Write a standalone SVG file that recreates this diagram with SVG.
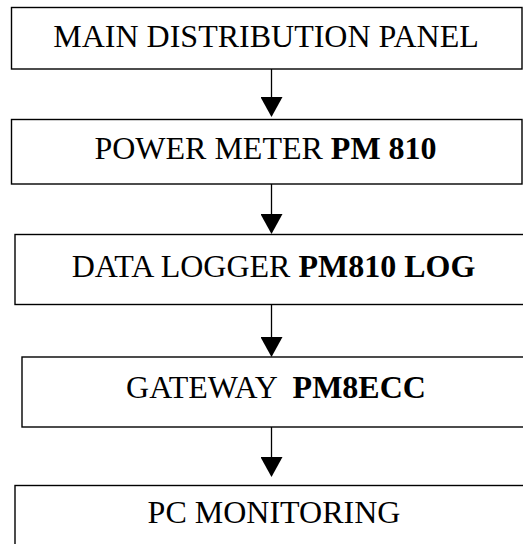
<svg xmlns="http://www.w3.org/2000/svg" width="523" height="544" viewBox="0 0 523 544">
<style>
.box{fill:#fff;stroke:#000;stroke-width:1.4}
.lbl{font-family:"Liberation Serif","Times New Roman",serif;font-size:32px;fill:#000;text-anchor:middle}
.b{font-weight:bold}
.conn{stroke:#000;stroke-width:1.3;fill:none}
</style>
<defs>
<marker id="ah" markerUnits="userSpaceOnUse" markerWidth="22" markerHeight="22" viewBox="0 0 20 22" refX="0" refY="11" orient="auto">
<path d="M0,0 L20,11 L0,22 Z" fill="#000"/>
</marker>
</defs>
<rect width="523" height="544" fill="#fff"/>
<g id="n1"><rect class="box" x="11.5" y="7.5" width="510.5" height="61.5"/><text class="lbl" x="266" y="47">MAIN DISTRIBUTION PANEL</text></g>
<g id="n2"><rect class="box" x="11.5" y="119.5" width="510.5" height="64.5"/><text class="lbl" x="265.5" y="159">POWER METER <tspan class="b">PM 810</tspan></text></g>
<g id="n3"><rect class="box" x="15" y="234.5" width="520" height="70"/><text class="lbl" x="273.5" y="277">DATA LOGGER <tspan class="b">PM810 LOG</tspan></text></g>
<g id="n4"><rect class="box" x="22" y="357" width="520" height="70"/><text class="lbl" x="276" y="398">GATEWAY <tspan class="b" dx="8">PM8ECC</tspan></text></g>
<g id="n5"><rect class="box" x="15" y="485.5" width="520" height="70"/><text class="lbl" x="274" y="523">PC MONITORING</text></g>
<g id="connectors">
<line class="conn" x1="271.5" y1="69" x2="271.5" y2="97" marker-end="url(#ah)"/>
<line class="conn" x1="271.5" y1="184" x2="271.5" y2="214" marker-end="url(#ah)"/>
<line class="conn" x1="271.5" y1="304.5" x2="271.5" y2="337" marker-end="url(#ah)"/>
<line class="conn" x1="271.5" y1="427" x2="271.5" y2="457" marker-end="url(#ah)"/>
</g>
</svg>
